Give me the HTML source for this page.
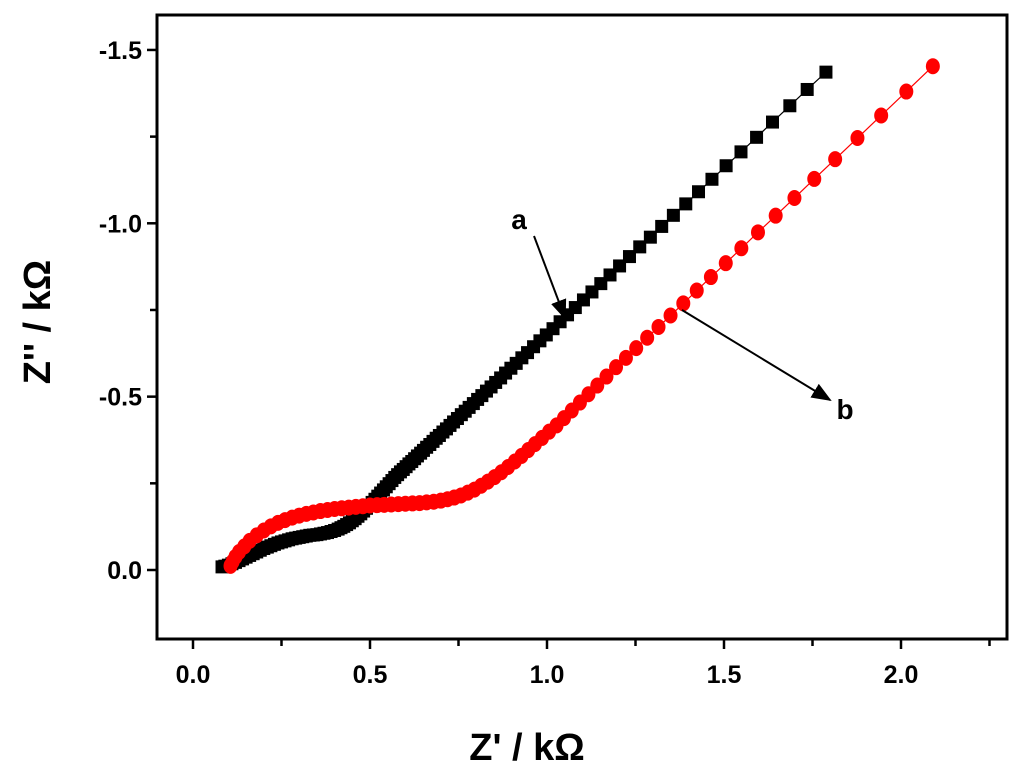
<!DOCTYPE html>
<html><head><meta charset="utf-8"><style>
body{margin:0;background:#fff}
svg{display:block;font-family:"Liberation Sans",Arial,sans-serif;font-weight:bold}
</style></head><body>
<svg id="chart" width="1024" height="774" viewBox="0 0 1024 774">
<defs><marker id="ah" markerWidth="10" markerHeight="8" refX="9" refY="4" orient="auto"><path d="M0,0 L10,4 L0,8 z" fill="#000"/></marker></defs>
<g id="plot"></g>
</svg>
<script>
const xTicks=[0.0,0.5,1.0,1.5,2.0];
const xTickLabels=["0.0","0.5","1.0","1.5","2.0"];
const yTicks=[0.0,0.5,1.0,1.5];
const yTickLabels=["0.0","-0.5","-1.0","-1.5"];
const aX=[1.788,1.735,1.686,1.637,1.592,1.548,1.506,1.466,1.428,1.392,1.357,1.324,1.292,1.262,1.233,1.205,1.178,1.152,1.127,1.103,1.080,1.058,1.037,1.017,0.998,0.980,0.962,0.945,0.929,0.913,0.898,0.883,0.869,0.855,0.842,0.829,0.816,0.804,0.792,0.780,0.769,0.758,0.747,0.736,0.726,0.716,0.706,0.696,0.687,0.678,0.669,0.660,0.651,0.643,0.634,0.626,0.618,0.610,0.602,0.594,0.586,0.578,0.570,0.562,0.554,0.546,0.538,0.530,0.522,0.514,0.506,0.498,0.490,0.482,0.474,0.466,0.458,0.450,0.442,0.434,0.426,0.418,0.410,0.400,0.390,0.380,0.370,0.360,0.350,0.340,0.330,0.320,0.310,0.300,0.290,0.280,0.270,0.260,0.250,0.240,0.230,0.220,0.210,0.200,0.190,0.180,0.170,0.160,0.150,0.140,0.130,0.120,0.110,0.100,0.090,0.082];
const aZ=[1.436,1.386,1.339,1.292,1.248,1.206,1.166,1.127,1.091,1.056,1.023,0.991,0.960,0.932,0.904,0.877,0.851,0.826,0.802,0.779,0.757,0.736,0.716,0.696,0.678,0.661,0.644,0.627,0.612,0.596,0.582,0.568,0.554,0.541,0.528,0.516,0.503,0.492,0.480,0.469,0.458,0.448,0.437,0.427,0.417,0.407,0.398,0.388,0.380,0.371,0.362,0.354,0.345,0.337,0.329,0.321,0.313,0.306,0.298,0.290,0.283,0.275,0.267,0.258,0.249,0.240,0.231,0.222,0.213,0.204,0.195,0.186,0.178,0.170,0.162,0.155,0.148,0.142,0.136,0.131,0.126,0.122,0.118,0.114,0.111,0.108,0.106,0.104,0.102,0.101,0.100,0.098,0.096,0.094,0.092,0.090,0.087,0.084,0.081,0.078,0.074,0.070,0.066,0.062,0.057,0.052,0.047,0.042,0.037,0.032,0.027,0.022,0.018,0.014,0.011,0.009];
const bX=[2.090,2.015,1.944,1.877,1.814,1.755,1.699,1.646,1.596,1.549,1.505,1.463,1.423,1.385,1.349,1.315,1.283,1.252,1.223,1.195,1.168,1.142,1.117,1.093,1.070,1.048,1.027,1.006,0.986,0.966,0.947,0.928,0.909,0.890,0.871,0.852,0.833,0.814,0.795,0.776,0.757,0.738,0.719,0.700,0.680,0.660,0.640,0.620,0.600,0.580,0.560,0.540,0.520,0.500,0.480,0.460,0.440,0.420,0.400,0.380,0.360,0.340,0.320,0.300,0.280,0.260,0.240,0.220,0.200,0.180,0.160,0.145,0.130,0.120,0.112,0.106];
const bZ=[1.453,1.380,1.311,1.246,1.185,1.128,1.073,1.022,0.974,0.928,0.885,0.845,0.806,0.769,0.734,0.701,0.670,0.640,0.612,0.585,0.558,0.532,0.507,0.483,0.460,0.438,0.417,0.399,0.381,0.363,0.346,0.329,0.313,0.297,0.282,0.268,0.255,0.243,0.232,0.223,0.215,0.209,0.204,0.200,0.197,0.195,0.193,0.192,0.191,0.190,0.189,0.188,0.187,0.186,0.184,0.182,0.180,0.178,0.176,0.173,0.170,0.166,0.162,0.157,0.151,0.144,0.136,0.126,0.114,0.100,0.084,0.068,0.052,0.038,0.024,0.012];
const L=157,R=1007,T=15,B=639;
const sx=v=>193+v*354;
const sy=v=>570-v*346.7;
const NS="http://www.w3.org/2000/svg";
const g=document.getElementById('plot');
function el(t,a,txt){const e=document.createElementNS(NS,t);for(const k in a)e.setAttribute(k,a[k]);if(txt!==undefined)e.textContent=txt;g.appendChild(e);return e;}
const fr=el('rect',{x:L,y:T,width:R-L,height:B-T,fill:'none',stroke:'#000','stroke-width':3});


for(let v=0;v<=2.26;v+=0.25){const x=sx(v);const major=Math.abs(v*2-Math.round(v*2))<1e-6;
 const t=el('line',{x1:x,y1:B,x2:x,y2:B+(major?10:7),stroke:'#000','stroke-width':2.5});
 
 }
xTicks.forEach((v,i)=>{const t=el('text',{x:sx(v),y:683,'font-size':25,'text-anchor':'middle'},xTickLabels[i]);
 
 });
for(let v=0;v<=1.51;v+=0.25){const y=sy(v);const major=Math.abs(v*2-Math.round(v*2))<1e-6;
 const t=el('line',{x1:L,y1:y,x2:L-(major?10:7),y2:y,stroke:'#000','stroke-width':2.5});
 
 }
yTicks.forEach((v,i)=>{const t=el('text',{x:142,y:sy(v)+9,'font-size':25,'text-anchor':'end'},yTickLabels[i]);
 
 });
const xt=el('text',{x:527,y:760,'font-size':38,'text-anchor':'middle'},"Z' / kΩ");


const yt=el('text',{x:0,y:0,'font-size':38,'text-anchor':'middle',transform:'translate(50,322) rotate(-90)'},"Z'' / kΩ");


const la=el('polyline',{points:aX.map((x,i)=>sx(x)+','+sy(aZ[i])).join(' '),fill:'none',stroke:'#000','stroke-width':1.2});


aX.forEach((x,i)=>{const m=el('rect',{x:sx(x)-6.5,y:sy(aZ[i])-6.5,width:13,height:13,fill:'#000'});
 
 });
const lb=el('polyline',{points:bX.map((x,i)=>sx(x)+','+sy(bZ[i])).join(' '),fill:'none',stroke:'#f00','stroke-width':1.2});


bX.forEach((x,i)=>{const m=el('ellipse',{cx:sx(x),cy:sy(bZ[i]),rx:7,ry:8,fill:'#f00'});
 
 });
const ta=el('text',{x:519,y:229,'font-size':28,'text-anchor':'middle'},'a');


const aa=el('line',{x1:534,y1:236,x2:565,y2:318,stroke:'#000','stroke-width':2,'marker-end':'url(#ah)'});


const tb=el('text',{x:845,y:419,'font-size':28,'text-anchor':'middle'},'b');


const ab=el('line',{x1:682,y1:310,x2:830,y2:400,stroke:'#000','stroke-width':2,'marker-end':'url(#ah)'});


</script>
</body></html>
